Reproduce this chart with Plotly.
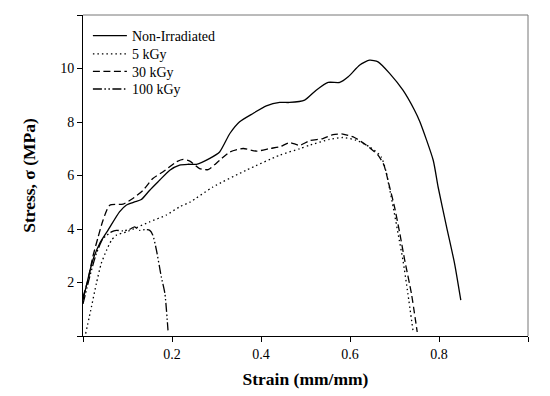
import plotly.graph_objects as go

# Non-Irradiated
x_non = [0.0, 0.022, 0.0375, 0.056, 0.082, 0.097, 0.116, 0.131, 0.15, 0.172, 0.195, 0.217, 0.236,
         0.255, 0.285, 0.307, 0.33, 0.352, 0.382, 0.412, 0.442, 0.464, 0.498, 0.524, 0.551, 0.577,
         0.596, 0.622, 0.644, 0.663, 0.689, 0.719, 0.745, 0.757, 0.787, 0.798, 0.817, 0.835, 0.849]
y_non = [1.34, 2.83, 3.46, 3.95, 4.64, 4.89, 5.01, 5.10, 5.45, 5.82, 6.2, 6.39, 6.42,
         6.42, 6.64, 6.88, 7.57, 8.01, 8.32, 8.6, 8.73, 8.73, 8.82, 9.19, 9.48, 9.48,
         9.69, 10.13, 10.31, 10.25, 9.82, 9.19, 8.44, 8.01, 6.57, 5.57, 4.08, 2.71, 1.34]

# 5 kGy
x_5 = [0.006, 0.019, 0.030, 0.041, 0.053, 0.064, 0.075, 0.097, 0.12, 0.15, 0.187, 0.217, 0.24,
       0.292, 0.367, 0.442, 0.487, 0.509, 0.554, 0.584, 0.614, 0.644, 0.67, 0.682, 0.685,
       0.697, 0.708, 0.719, 0.73, 0.742]
y_5 = [0.09, 1.09, 1.96, 2.71, 3.21, 3.58, 3.77, 3.89, 4.05, 4.27, 4.52, 4.83, 5.0,
       5.57, 6.2, 6.76, 7.0, 7.13, 7.35, 7.42, 7.32, 7.07, 6.7, 6.08, 5.83,
       4.83, 3.83, 2.83, 1.59, 0.15]

# 30 kGy
x_30 = [0.0, 0.011, 0.022, 0.034, 0.045, 0.06, 0.09, 0.112, 0.135, 0.157, 0.18, 0.21, 0.225,
        0.24, 0.262, 0.281, 0.307, 0.33, 0.36, 0.39, 0.42, 0.442, 0.464, 0.487, 0.509, 0.539,
        0.562, 0.584, 0.61, 0.637, 0.663, 0.676, 0.689, 0.7, 0.712, 0.723, 0.738, 0.751]
y_30 = [1.46, 2.08, 2.96, 3.70, 4.33, 4.89, 4.93, 5.14, 5.45, 5.89, 6.14, 6.51, 6.6,
        6.54, 6.26, 6.22, 6.57, 6.88, 7.01, 6.91, 7.01, 7.07, 7.23, 7.13, 7.3, 7.38,
        7.53, 7.55, 7.42, 7.13, 6.76, 6.4, 5.57, 4.83, 3.83, 2.83, 1.59, 0.15]

# 100 kGy
x_100 = [0.0, 0.015, 0.030, 0.045, 0.064, 0.075, 0.09, 0.105, 0.116, 0.127, 0.139, 0.15,
         0.157, 0.165, 0.176, 0.184, 0.191]
y_100 = [1.2, 2.21, 3.08, 3.64, 3.89, 3.95, 3.93, 3.99, 4.08, 3.95, 3.98, 3.95,
         3.77, 3.21, 2.21, 1.59, 0.21]

x_tickvals = [0, 0.2, 0.4, 0.6, 0.8, 1.0]
x_ticktext = ["", "0.2", "0.4", "0.6", "0.8", ""]
y_tickvals = [0, 2, 4, 6, 8, 10, 12]
y_ticktext = ["", "2", "4", "6", "8", "10", ""]

FONT = "Liberation Serif, Times New Roman, serif"

fig = go.Figure()
series = [
    ("Non-Irradiated", x_non, y_non, "solid", "legend"),
    ("5 kGy", x_5, y_5, "1.5px,3px", "legend2"),
    ("30 kGy", x_30, y_30, "7px,3.5px", "legend3"),
    ("100 kGy", x_100, y_100, "9px,2.5px,1.5px,2.5px,1.5px,2.5px", "legend4"),
]
for name, xs, ys, dash, lg in series:
    fig.add_trace(go.Scatter(
        x=xs, y=ys, name=name, mode="lines", legend=lg,
        line=dict(color="black", width=1.3, dash=dash, shape="spline", smoothing=0.6),
    ))

leg_y = [0.9345, 0.8774, 0.8232, 0.7683]
def leg(yv):
    return dict(x=0.011, y=yv, xanchor="left", yanchor="middle", itemwidth=34,
                bgcolor="rgba(0,0,0,0)", borderwidth=0,
                font=dict(family=FONT, size=14, color="black"))

fig.update_layout(
    width=550, height=396,
    margin=dict(l=75, r=30, t=7, b=68),
    paper_bgcolor="white", plot_bgcolor="white",
    font=dict(family=FONT, size=14, color="black"),
    showlegend=True,
    legend=leg(leg_y[0]), legend2=leg(leg_y[1]), legend3=leg(leg_y[2]), legend4=leg(leg_y[3]),
    xaxis=dict(range=[0, 1], tickvals=x_tickvals, ticktext=x_ticktext, automargin=False,
               showgrid=False, zeroline=False, showline=True, linecolor="black", linewidth=1,
               ticks="outside", ticklen=5, tickcolor="black",
               tickfont=dict(family=FONT, size=14, color="black"),
               title=dict(text="<b>Strain (mm/mm)</b>", font=dict(family=FONT, size=17.5, color="black"),
                          standoff=11)),
    yaxis=dict(range=[0, 12], tickvals=y_tickvals, ticktext=y_ticktext, automargin=False,
               showgrid=False, zeroline=False, showline=True, linecolor="black", linewidth=1,
               ticks="outside", ticklen=5, tickcolor="black",
               tickfont=dict(family=FONT, size=14, color="black"),
               title=dict(text="<b>Stress, σ (MPa)</b>", font=dict(family=FONT, size=17.5, color="black"),
                          standoff=20)),
    shapes=[
        dict(type="line", xref="paper", yref="paper", x0=0, x1=1, y0=1, y1=1,
             line=dict(color="#777777", width=1)),
        dict(type="line", xref="paper", yref="paper", x0=1, x1=1, y0=0, y1=1,
             line=dict(color="#777777", width=1)),
    ],
)

fig.write_html("out.html")
